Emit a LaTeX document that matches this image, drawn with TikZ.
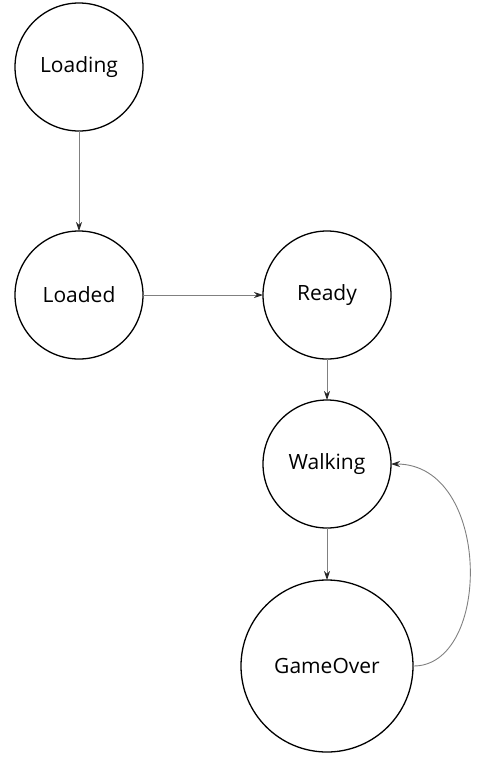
\documentclass[tikz,border=0pt]{standalone}
\usepackage{fontspec}
\setmainfont{Open Sans}
\usetikzlibrary{arrows.meta}
\begin{document}
\begin{tikzpicture}[x=1pt,y=-1pt, outer sep=0pt,inner sep=1pt,
    state/.style={circle, draw, line width=1.3pt, minimum size=128pt, font=\fontsize{21}{24}\selectfont},
    edge/.style={draw=black!50, line width=0.9pt, -{Stealth[length=9pt,width=6pt,color=black!85]}}]
    \useasboundingbox (0,0) rectangle (482,758);
    \foreach \name/\x/\y/\txt in {loading/79/67/Loading, loaded/79/295/Loaded, ready/327/295/Ready, walking/327/464/Walking}
        \node[state] (\name) at (\x,\y) {\txt};
    \node[state, minimum size=172pt] (gameover) at (327,666) {GameOver};

    \draw[edge] (loading) -- (loaded);
    \draw[edge] (loaded) -- (ready);
    \draw[edge] (ready) -- (walking);
    \draw[edge] (walking) -- (gameover);
    \draw[edge] (gameover.east) .. controls (492,667) and (492,464) .. (walking.east);
\end{tikzpicture}
\end{document}
